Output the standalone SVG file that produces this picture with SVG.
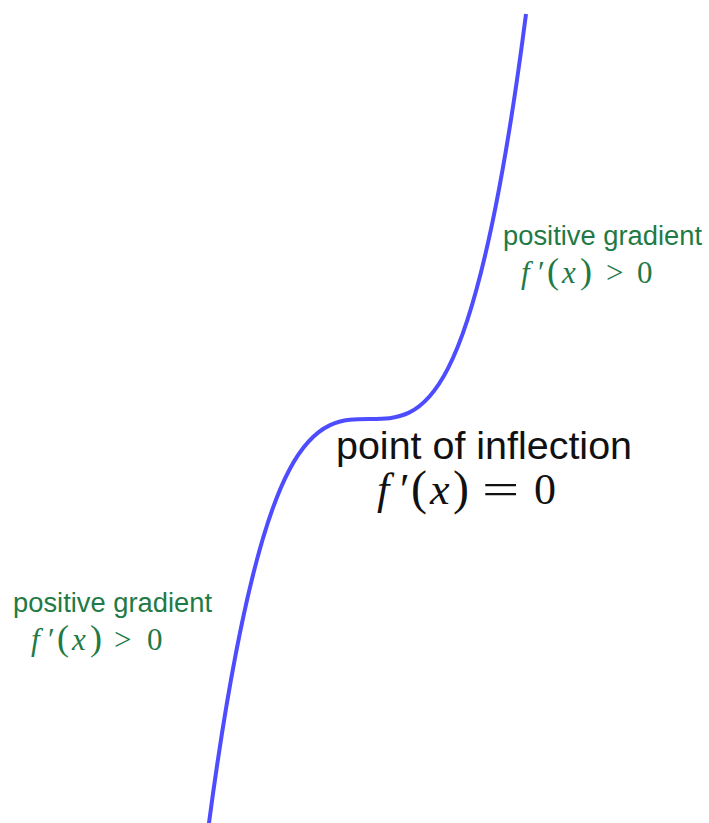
<svg xmlns="http://www.w3.org/2000/svg" width="709" height="823" viewBox="0 0 709 823">
<style>
.curve{fill:none;stroke:#4d4dff;stroke-width:4;stroke-linecap:butt}
.lbl{font-family:"Liberation Sans",Arial,sans-serif}
.g{fill:#1f7a45}
.k{fill:#111}
.m{font-family:"Liberation Serif","Times New Roman",serif}
.i{font-style:italic}
</style>
<rect width="709" height="823" fill="#fff"/>
<g id="curve">
<path class="curve" d="M526,13.9 C474,419 422,419 370,419 C316.17,419 262.33,419 208.5,826.7"/>
</g>
<g id="label-top">
<text class="lbl g" x="503" y="245" font-size="27" textLength="199" lengthAdjust="spacingAndGlyphs">positive gradient</text>
<text class="m g" y="283" font-size="31"><tspan class="i" x="521">f</tspan><tspan x="538">′</tspan><tspan x="547" font-size="36">(</tspan><tspan class="i" x="562">x</tspan><tspan x="580" font-size="36">)</tspan><tspan x="606">&gt;</tspan><tspan x="637">0</tspan></text>
</g>
<g id="label-center">
<text class="lbl k" x="336" y="459" font-size="38" textLength="296" lengthAdjust="spacingAndGlyphs">point of inflection</text>
<text class="m k" y="504" font-size="44"><tspan class="i" x="377">f</tspan><tspan x="400">′</tspan><tspan x="411" font-size="48">(</tspan><tspan class="i" x="430">x</tspan><tspan x="453" font-size="48">)</tspan><tspan x="534">0</tspan></text>
<text class="m k" font-size="44" transform="translate(482,504) scale(1.5,1)" x="0" y="0">=</text>
</g>
<g id="label-left">
<text class="lbl g" x="13" y="612" font-size="27" textLength="199" lengthAdjust="spacingAndGlyphs">positive gradient</text>
<text class="m g" y="650" font-size="31"><tspan class="i" x="31">f</tspan><tspan x="48">′</tspan><tspan x="57" font-size="36">(</tspan><tspan class="i" x="72">x</tspan><tspan x="90" font-size="36">)</tspan><tspan x="114">&gt;</tspan><tspan x="147">0</tspan></text>
</g>
</svg>
